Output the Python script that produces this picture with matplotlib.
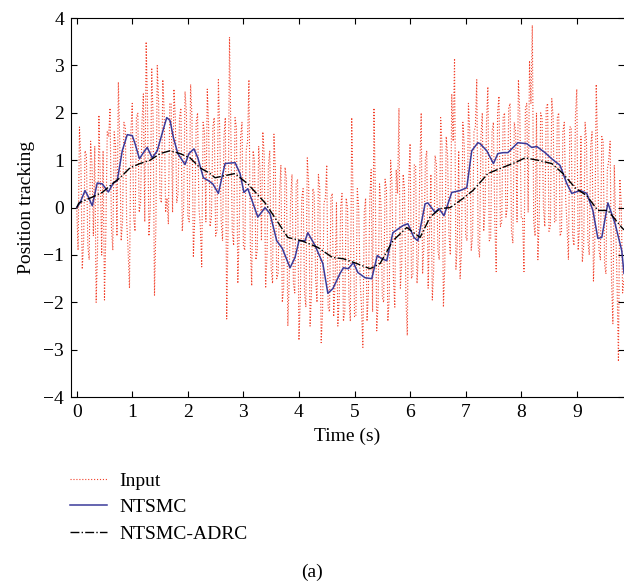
import numpy as np
import matplotlib
matplotlib.use("Agg")
import matplotlib.pyplot as plt

#--- data ---#
# input signal, main samples every 0.05 s from t=0 to t=9.85
t_in = np.arange(198) * 0.05
u_in = [
    0.0, 1.7, -1.3, 1.2, -0.8, 1.4, -0.6, -2.0, 1.95, -1.0,
    -1.95, 1.6, 2.1, -0.9, 1.3, 2.65, -0.7, 1.8, -0.3, -1.7,
    2.2, -0.5, 2.0, 0.1, 2.4, 3.5, -0.6, 2.95, -1.85, 3.0,
    0.2, 2.7, -0.1, -0.35, 2.2, 2.5, 0.1, 1.9, -0.5, 2.45,
    -0.2, 2.6, -1.05, 1.8, 0.0, -1.25, 1.6, 2.5, -0.4, 1.7,
    -0.6, 2.7, -0.3, 1.5, -2.35, 3.6, -0.5, 1.9, -1.6, 1.5,
    -0.8, 1.2, 2.7, -1.65, 1.0, -0.9, 0.8, 1.6, -1.7, 0.9,
    -1.3, 1.55, -1.5, 0.3, -2.0, 0.85, -2.5, 0.2, -1.6, 0.5,
    -2.8, 0.2, -1.8, 1.05, -2.5, 0.4, -1.5, 0.7, -2.85, 0.1,
    0.9, -2.2, 0.3, -1.6, -2.5, 0.0, -2.4, 0.2, -1.9, 1.9,
    -2.3, 0.4, -1.5, -2.95, 0.2, -1.8, 0.8, 2.1, -2.6, 0.5,
    -1.9, 0.6, -2.4, 1.0, -1.5, 0.8, 2.1, -1.2, 0.4, -2.7,
    1.35, -1.4, 0.9, -1.0, 2.0, -0.8, 1.2, -0.5, -1.95, 1.1,
    -0.9, 1.9, -2.1, 1.5, -0.6, 2.4, 3.15, -0.8, -1.5, 1.8,
    -0.6, 2.2, -0.9, 1.6, 2.7, -1.05, 2.0, 0.0, 2.55, -0.65,
    1.8, -1.35, 2.35, -0.3, 2.0, 0.0, 2.2, -0.75, 1.6, 2.7,
    -0.2, -1.35, 2.2, 3.1, 3.85, -0.6, -1.1, 2.0, 0.0, 2.1,
    -0.5, 2.3, -0.3, 1.9, -0.6, 1.6, 0.2, -1.1, 1.7, -0.8,
    2.5, -0.4, -1.15, 1.8, -0.7, 1.3, -1.55, 2.6, -0.9, 1.5,
    -1.2, 0.8, 1.4, -2.45, -0.3, -3.25, 0.1, -1.5,
]
# in-between samples at t = 0.025 + 0.05 k
t_mid = 0.025 + np.arange(197) * 0.05
u_mid = [
    -0.9, 1.0, -0.7, 1.1, -1.1, 0.9, 1.3, -0.9, 0.6, 1.2,
    -0.5, 1.5, -0.4, 1.6, -0.6, 1.4, -0.3, 1.7, -0.9, 1.6,
    -0.2, 1.9, -0.1, 1.8, -0.3, 2.1, 0.0, 1.9, -0.4, 2.2,
    0.1, 2.0, 0.2, 2.2, -0.1, 1.9, 0.3, 2.1, 0.0, 2.0,
    -0.3, 1.9, -0.2, 2.0, -0.4, 1.8, -0.3, 1.7, -0.2, 1.9,
    -0.5, 1.6, -0.7, 1.9, -0.4, 1.5, -0.8, 1.7, -0.5, 1.8,
    -0.9, 1.4, -0.8, 1.2, -1.1, 1.3, -0.7, 1.1, -1.0, 1.2,
    -1.6, 0.8, -1.4, 0.9, -1.7, 0.6, -1.5, 0.7, -1.8, 0.6,
    -1.9, 0.4, -2.1, 0.5, -1.8, 0.3, -2.0, 0.4, -2.2, 0.2,
    -2.1, 0.2, -2.3, 0.1, -1.9, 0.3, -2.2, 0.0, -2.4, 0.1,
    -2.3, 0.0, -2.1, -0.1, -2.4, 0.2, -2.2, 0.3, -2.0, 0.1,
    -2.0, 0.4, -1.9, 0.5, -2.1, 0.3, -1.7, 0.7, -1.9, 0.5,
    -1.5, 0.9, -1.6, 0.8, -1.4, 1.0, -1.7, 0.7, -1.3, 0.9,
    -1.1, 1.3, -1.2, 1.1, -1.0, 1.4, -1.3, 1.2, -0.9, 1.3,
    -0.7, 1.6, -0.6, 1.7, -0.8, 1.5, -0.5, 1.8, -0.7, 1.6,
    -0.3, 2.0, -0.4, 1.9, -0.2, 2.1, -0.5, 1.8, -0.3, 2.0,
    -0.2, 2.1, -0.1, 2.2, -0.3, 2.0, -0.2, 1.9, -0.4, 2.2,
    -0.4, 1.9, -0.3, 2.0, -0.5, 1.8, -0.4, 1.7, -0.6, 1.9,
    -0.9, 1.5, -0.8, 1.4, -1.0, 1.6, -0.7, 1.3, -1.1, 1.4,
    -1.4, 1.0, -1.5, 0.9, -1.6, 0.6, -1.8,
]

# NTSMC response
t_nt = [0, 0.06, 0.15, 0.2, 0.28, 0.37, 0.46, 0.57, 0.66, 0.73, 0.82, 0.91, 1.0, 1.05,
        1.13, 1.2, 1.27, 1.36, 1.45, 1.5, 1.62, 1.68, 1.74, 1.82, 1.95, 2.02, 2.11, 2.18,
        2.28, 2.37, 2.45, 2.55, 2.67, 2.85, 2.94, 3.01, 3.08, 3.26, 3.39, 3.48, 3.6, 3.7,
        3.84, 3.93, 4.0, 4.11, 4.16, 4.29, 4.43, 4.52, 4.61, 4.74, 4.8, 4.89, 4.98, 5.06,
        5.19, 5.31, 5.41, 5.49, 5.58, 5.69, 5.87, 5.96, 6.07, 6.14, 6.27, 6.32, 6.45, 6.52,
        6.61, 6.75, 6.9, 7.02, 7.11, 7.22, 7.26, 7.38, 7.5, 7.58, 7.67, 7.76, 7.94, 8.1,
        8.19, 8.28, 8.43, 8.55, 8.7, 8.82, 8.91, 9.06, 9.18, 9.29, 9.38, 9.45, 9.56, 9.69,
        9.81, 9.85]
y_nt = [0, 0.1, 0.36, 0.25, 0.04, 0.52, 0.5, 0.33, 0.52, 0.57, 1.2, 1.54, 1.52, 1.35,
        1.03, 1.16, 1.27, 1.05, 1.2, 1.41, 1.9, 1.84, 1.48, 1.14, 0.91, 1.14, 1.24, 1.05,
        0.63, 0.57, 0.5, 0.3, 0.93, 0.95, 0.72, 0.32, 0.4, -0.2, 0.0, -0.13, -0.7, -0.86,
        -1.27, -1.05, -0.7, -0.7, -0.53, -0.8, -1.18, -1.81, -1.71, -1.39, -1.27, -1.29, -1.16, -1.37,
        -1.48, -1.5, -1.01, -1.08, -1.12, -0.53, -0.38, -0.34, -0.63, -0.7, 0.08, 0.1, -0.1, -0.02,
        -0.17, 0.32, 0.36, 0.42, 1.2, 1.37, 1.35, 1.2, 0.93, 1.14, 1.16, 1.16, 1.37, 1.35,
        1.27, 1.29, 1.16, 1.03, 0.89, 0.51, 0.3, 0.36, 0.3, -0.06, -0.65, -0.63, 0.1, -0.34,
        -0.91, -1.39]

# NTSMC-ADRC response
t_ad = [0, 0.04, 0.24, 0.46, 0.64, 0.78, 0.96, 1.14, 1.32, 1.5, 1.68, 1.86, 2.04, 2.22,
        2.4, 2.49, 2.85, 3.08, 3.39, 3.6, 3.8, 4.05, 4.34, 4.6, 4.8, 5.04, 5.28, 5.46,
        5.69, 5.94, 6.18, 6.36, 6.54, 6.72, 6.95, 7.13, 7.26, 7.4, 7.65, 7.89, 8.07, 8.3,
        8.55, 8.75, 8.97, 9.18, 9.38, 9.56, 9.81, 9.85]
y_ad = [0, 0.1, 0.2, 0.32, 0.5, 0.63, 0.84, 0.93, 1.0, 1.14, 1.2, 1.14, 1.05, 0.84,
        0.72, 0.63, 0.72, 0.5, 0.1, -0.27, -0.63, -0.7, -0.84, -1.05, -1.08, -1.18, -1.29, -1.18,
        -0.7, -0.42, -0.63, -0.2, -0.02, 0.0, 0.19, 0.36, 0.53, 0.72, 0.84, 0.95, 1.05, 1.0,
        0.93, 0.72, 0.42, 0.25, -0.06, -0.06, -0.42, -0.47]

# merge main and in-between input samples
t_all = np.concatenate([t_in, t_mid])
u_all = np.concatenate([u_in, u_mid])
order = np.argsort(t_all)
t_all = t_all[order]; u_all = u_all[order]

#--- plot ---#
plt.rcParams["font.family"] = ["Liberation Serif", "DejaVu Serif"]
plt.rcParams["font.size"] = 14

fig = plt.figure(figsize=(6.24, 5.84), dpi=100)
ax = fig.add_axes([0.114, 0.320, 0.886, 0.649])

ax.plot(t_all, u_all, ls=":", color="#f2402a", lw=0.8, label="Input")
ax.plot(t_nt, y_nt, ls="-", color="#3a3a9a", lw=1.1, label="NTSMC")
ax.plot(t_ad, y_ad, ls="-.", color="black", lw=1.0, label="NTSMC-ADRC")

ax.set_xlim(-0.1, 9.85)
ax.set_ylim(-4, 4)
ax.set_xticks(range(10))
ax.set_yticks(range(-4, 5))
ax.tick_params(direction="in", top=True, right=True, length=4, width=0.8,
               labelsize=14, pad=5)
ax.spines["right"].set_visible(False)
for s in ["left", "top", "bottom"]:
    ax.spines[s].set_linewidth(0.8)
ax.set_xlabel("Time (s)", fontsize=14, labelpad=5)
ax.set_ylabel("Position tracking", fontsize=14, labelpad=6)

fig.legend(loc="upper left", bbox_to_anchor=(0.096, 0.208), frameon=False,
           borderpad=0, handlelength=1.9, handletextpad=0.67, labelspacing=0.45,
           fontsize=14)
fig.text(0.5, 0.0205, "(a)", ha="center", va="center", fontsize=14)

fig.savefig("out.png", dpi=100)
